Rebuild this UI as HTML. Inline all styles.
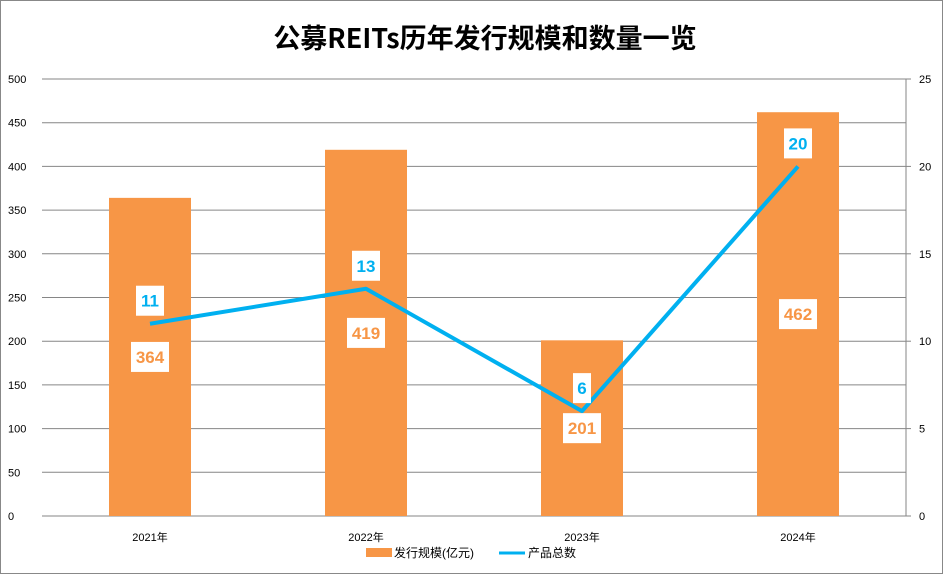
<!DOCTYPE html>
<html><head><meta charset="utf-8"><style>
body{margin:0;background:#fff}
svg{display:block;font-family:"Liberation Sans","Noto Sans CJK SC",sans-serif}
</style></head><body>
<svg id="c" width="944" height="576" viewBox="0 0 944 576">
<rect x="0.5" y="0.5" width="942" height="573" fill="#fff" stroke="#888"/>
<text x="485" y="48" text-anchor="middle" font-size="27" font-weight="bold" fill="#000" style="font-family:'Noto Sans CJK SC',sans-serif">公募REITs历年发行规模和数量一览</text>
<g id="grid"></g><g id="bars"></g><g id="line"></g><g id="labels"></g>
<g>
<rect x="366" y="548" width="26" height="9" fill="#F79646"/>
<text x="394" y="557" font-size="12" fill="#000">发行规模(亿元)</text>
<line x1="499" y1="553" x2="525" y2="553" stroke="#00B0F0" stroke-width="3"/>
<text x="528" y="557" font-size="12" fill="#000">产品总数</text>
</g>
</svg>
<script>
const categories=["2021年","2022年","2023年","2024年"];
const scaleValues=[364,419,201,462];
const countValues=[11,13,6,20];
const leftTicks=[0,50,100,150,200,250,300,350,400,450,500];
const rightTicks=[0,5,10,15,20,25];
const NS="http://www.w3.org/2000/svg";
const x0=42,x1=906,yB=516,yT=79;
const yL=v=>yB-(v/500)*(yB-yT);
const yR=v=>yB-(v/25)*(yB-yT);
const band=(x1-x0)/categories.length;
const xc=i=>x0+band*(i+0.5);
function mk(t,a,p){const e=document.createElementNS(NS,t);for(const k in a)e.setAttribute(k,a[k]);p.appendChild(e);return e;}
const g=document.getElementById('grid'),b=document.getElementById('bars'),l=document.getElementById('line'),lb=document.getElementById('labels');
leftTicks.forEach(v=>{
 const ln=mk('line',{x1:x0,x2:x1,y1:yL(v),y2:yL(v),stroke:'#868686','stroke-width':1},g);
 
 
 const t=mk('text',{x:8,y:yL(v)+4,'font-size':11,fill:'#000'},g);t.textContent=v;
 
 
});
mk('line',{x1:x1,x2:x1,y1:yT,y2:yB,stroke:'#868686'},g);
rightTicks.forEach(v=>{
 mk('line',{x1:x1,x2:x1+5,y1:yR(v),y2:yR(v),stroke:'#868686'},g);
 const t=mk('text',{x:919,y:yR(v)+4,'font-size':11,fill:'#000'},g);t.textContent=v;
 
 
});
categories.forEach((c,i)=>{
 const t=mk('text',{x:xc(i),y:541,'text-anchor':'middle','font-size':11,fill:'#000'},g);t.textContent=c;
 
 
 const w=82,h=yB-yL(scaleValues[i]);
 const r=mk('rect',{x:xc(i)-w/2,y:yL(scaleValues[i]),width:w,height:h,fill:'#F79646'},b);
 
 
});
const pl=mk('polyline',{points:countValues.map((v,i)=>xc(i)+','+yR(v)).join(' '),fill:'none',stroke:'#00B0F0','stroke-width':4,'stroke-linejoin':'round'},l);


function label(x,y,txt,col,name){
 const w=txt.length*10+8;
 const r=mk('rect',{x:x-w/2,y:y-15,width:w,height:30,fill:'#fff'},lb);
 
 
 const t=mk('text',{x:x,y:y+6,'text-anchor':'middle','font-size':17,'font-weight':'bold',fill:col},lb);t.textContent=txt;
 
 
}
scaleValues.forEach((v,i)=>label(xc(i),(yL(v)+yB)/2,String(v),'#F79646','bar-value-label'));
countValues.forEach((v,i)=>label(xc(i),yR(v)-23,String(v),'#00B0F0','count-value-label'));
</script>
</body></html>
